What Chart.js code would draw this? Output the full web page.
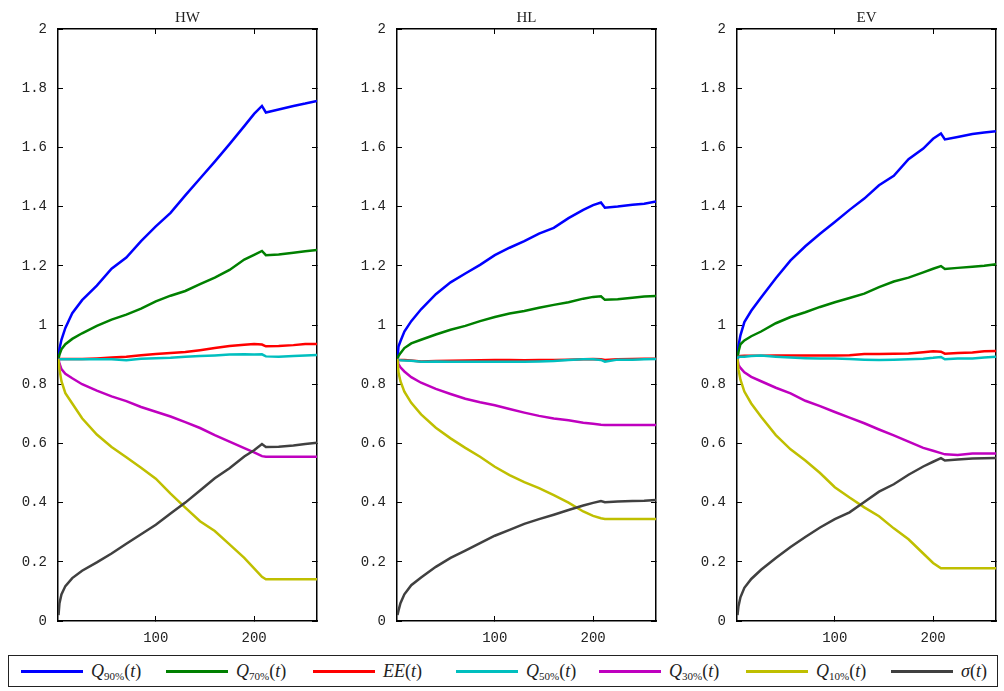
<!DOCTYPE html>
<html>
<head>
<meta charset="utf-8">
<script src="https://cdn.jsdelivr.net/npm/chart.js@4.4.1/dist/chart.umd.min.js"></script>
<style>
  body { margin: 0; background: #fff; width: 1004px; height: 691px; position: relative; overflow: hidden; }
  canvas { position: absolute; top: 0; }
  #legend { position: absolute; left: 8px; top: 655px; width: 990px; height: 32px; border: 1.5px solid #222; box-sizing: border-box; }
  .item { position: absolute; top: 0; height: 32px; font-family: "Liberation Serif", "DejaVu Serif", serif; font-size: 18px; color: #222; white-space: nowrap; }
  .item .ln { position: absolute; top: 14px; left: 0; width: 62px; height: 3px; }
  .item .tx { position: absolute; top: 5px; left: 70px; }
  .item sub { font-style: normal; font-size: 11px; vertical-align: -3px; }
</style>
</head>
<body>
<canvas id="c0"></canvas>
<canvas id="c1"></canvas>
<canvas id="c2"></canvas>
<div id="legend"></div>
<script>
// time steps shared by all series
const T = [1, 2, 4, 8, 15, 25, 40, 55, 70, 85, 100, 115, 130, 145, 160, 175, 190, 200, 208, 212, 225, 240, 252, 264];

// HW
const HW_Q90 = [0.885, 0.92, 0.95, 0.99, 1.04, 1.084, 1.133, 1.19, 1.228, 1.283, 1.333, 1.379, 1.438, 1.495, 1.552, 1.611, 1.672, 1.713, 1.740, 1.718, 1.728, 1.740, 1.748, 1.757];
const HW_Q70 = [0.885, 0.90, 0.918, 0.935, 0.953, 0.972, 0.997, 1.018, 1.035, 1.055, 1.080, 1.099, 1.115, 1.138, 1.160, 1.186, 1.221, 1.237, 1.250, 1.236, 1.238, 1.244, 1.249, 1.253];
const HW_EE  = [0.885, 0.885, 0.885, 0.885, 0.885, 0.885, 0.887, 0.890, 0.893, 0.898, 0.902, 0.905, 0.909, 0.915, 0.922, 0.929, 0.933, 0.936, 0.934, 0.928, 0.929, 0.932, 0.936, 0.936];
const HW_Q50 = [0.885, 0.884, 0.884, 0.884, 0.884, 0.884, 0.884, 0.884, 0.881, 0.886, 0.888, 0.889, 0.893, 0.895, 0.897, 0.900, 0.901, 0.900, 0.901, 0.894, 0.893, 0.895, 0.897, 0.899];
const HW_Q30 = [0.885, 0.870, 0.851, 0.835, 0.820, 0.800, 0.778, 0.759, 0.743, 0.723, 0.707, 0.691, 0.672, 0.652, 0.628, 0.606, 0.584, 0.570, 0.557, 0.555, 0.555, 0.555, 0.555, 0.555];
const HW_Q10 = [0.885, 0.850, 0.810, 0.770, 0.735, 0.685, 0.630, 0.588, 0.553, 0.518, 0.481, 0.430, 0.383, 0.337, 0.304, 0.259, 0.213, 0.178, 0.149, 0.141, 0.141, 0.141, 0.141, 0.141];
const HW_SD  = [0.020, 0.060, 0.090, 0.118, 0.145, 0.170, 0.198, 0.228, 0.261, 0.293, 0.325, 0.363, 0.400, 0.441, 0.482, 0.516, 0.556, 0.577, 0.598, 0.588, 0.589, 0.593, 0.598, 0.602];

// HL
const HL_Q90 = [0.885, 0.927, 0.945, 0.978, 1.013, 1.053, 1.104, 1.144, 1.174, 1.203, 1.236, 1.261, 1.283, 1.309, 1.328, 1.361, 1.389, 1.405, 1.414, 1.396, 1.400, 1.406, 1.410, 1.417];
const HL_Q70 = [0.885, 0.895, 0.905, 0.922, 0.938, 0.950, 0.968, 0.984, 0.997, 1.013, 1.027, 1.039, 1.047, 1.058, 1.068, 1.077, 1.089, 1.095, 1.097, 1.085, 1.087, 1.092, 1.096, 1.098];
const HL_EE  = [0.885, 0.883, 0.882, 0.882, 0.880, 0.877, 0.878, 0.879, 0.880, 0.881, 0.882, 0.882, 0.881, 0.882, 0.882, 0.883, 0.884, 0.885, 0.884, 0.882, 0.884, 0.885, 0.886, 0.886];
const HL_Q50 = [0.885, 0.882, 0.881, 0.880, 0.879, 0.876, 0.877, 0.876, 0.876, 0.876, 0.876, 0.876, 0.876, 0.877, 0.878, 0.882, 0.884, 0.884, 0.882, 0.876, 0.883, 0.883, 0.884, 0.885];
const HL_Q30 = [0.885, 0.868, 0.857, 0.843, 0.824, 0.805, 0.784, 0.767, 0.751, 0.739, 0.729, 0.716, 0.704, 0.693, 0.684, 0.678, 0.670, 0.666, 0.663, 0.662, 0.662, 0.662, 0.662, 0.662];
const HL_Q10 = [0.885, 0.840, 0.810, 0.775, 0.737, 0.698, 0.653, 0.617, 0.585, 0.555, 0.521, 0.493, 0.469, 0.449, 0.425, 0.400, 0.370, 0.355, 0.347, 0.345, 0.345, 0.345, 0.345, 0.345];
const HL_SD  = [0.020, 0.035, 0.060, 0.090, 0.121, 0.147, 0.183, 0.213, 0.238, 0.263, 0.288, 0.308, 0.328, 0.344, 0.359, 0.375, 0.390, 0.399, 0.405, 0.401, 0.404, 0.405, 0.406, 0.409];

// EV
const EV_Q90 = [0.885, 0.930, 0.965, 1.010, 1.048, 1.093, 1.158, 1.218, 1.266, 1.308, 1.348, 1.389, 1.427, 1.472, 1.504, 1.560, 1.596, 1.629, 1.647, 1.627, 1.635, 1.645, 1.650, 1.655];
const EV_Q70 = [0.885, 0.910, 0.935, 0.948, 0.962, 0.978, 1.006, 1.027, 1.043, 1.061, 1.077, 1.091, 1.106, 1.128, 1.147, 1.160, 1.178, 1.190, 1.199, 1.189, 1.193, 1.197, 1.200, 1.205];
const EV_EE  = [0.885, 0.893, 0.895, 0.896, 0.896, 0.896, 0.897, 0.897, 0.897, 0.897, 0.897, 0.898, 0.902, 0.902, 0.903, 0.904, 0.908, 0.911, 0.910, 0.903, 0.905, 0.907, 0.911, 0.912];
const EV_Q50 = [0.885, 0.892, 0.893, 0.893, 0.895, 0.897, 0.893, 0.890, 0.888, 0.887, 0.887, 0.885, 0.883, 0.882, 0.883, 0.884, 0.886, 0.889, 0.892, 0.884, 0.887, 0.887, 0.890, 0.893];
const EV_Q30 = [0.885, 0.865, 0.855, 0.840, 0.825, 0.810, 0.788, 0.769, 0.744, 0.726, 0.706, 0.687, 0.668, 0.647, 0.627, 0.606, 0.585, 0.575, 0.567, 0.563, 0.561, 0.566, 0.566, 0.566];
const EV_Q10 = [0.885, 0.850, 0.815, 0.775, 0.735, 0.690, 0.628, 0.580, 0.542, 0.500, 0.452, 0.417, 0.384, 0.354, 0.313, 0.276, 0.228, 0.196, 0.178, 0.178, 0.178, 0.178, 0.178, 0.178];
const EV_SD  = [0.020, 0.050, 0.080, 0.112, 0.142, 0.173, 0.213, 0.250, 0.284, 0.316, 0.344, 0.367, 0.402, 0.437, 0.462, 0.494, 0.522, 0.538, 0.550, 0.542, 0.546, 0.549, 0.550, 0.551];

const titles = ['HW', 'HL', 'EV'];
const panelSeries = [
  [HW_Q90, HW_Q70, HW_EE, HW_Q50, HW_Q30, HW_Q10, HW_SD],
  [HL_Q90, HL_Q70, HL_EE, HL_Q50, HL_Q30, HL_Q10, HL_SD],
  [EV_Q90, EV_Q70, EV_EE, EV_Q50, EV_Q30, EV_Q10, EV_SD]
];
const colors = ['#0000ff', '#008000', '#ff0000', '#00bfbf', '#bf00bf', '#bfbf00', '#404040'];
const legendHtml = [
  '<i>Q</i><sub>90%</sub>(<i>t</i>)',
  '<i>Q</i><sub>70%</sub>(<i>t</i>)',
  '<i>EE</i>(<i>t</i>)',
  '<i>Q</i><sub>50%</sub>(<i>t</i>)',
  '<i>Q</i><sub>30%</sub>(<i>t</i>)',
  '<i>Q</i><sub>10%</sub>(<i>t</i>)',
  '<i>σ</i>(<i>t</i>)'
];
const legendX = [12, 157, 304, 447, 590, 737, 882];

const tickFont = { family: '"Liberation Mono", "DejaVu Sans Mono", monospace', size: 14 };
const canvasLeft = [0, 339, 679];

function axisCommon() {
  return {
    type: 'linear',
    grid: { drawOnChartArea: false, drawTicks: true, tickLength: -5, color: '#000', lineWidth: 1 },
    border: { display: true, color: '#000', width: 1.5 }
  };
}

titles.forEach((title, p) => {
  const cv = document.getElementById('c' + p);
  cv.style.left = canvasLeft[p] + 'px';
  cv.style.width = '330px';
  cv.style.height = '651px';
  cv.width = 330;
  cv.height = 651;

  const datasets = panelSeries[p].map((vals, i) => ({
    data: T.map((t, k) => ({ x: t, y: vals[k] })),
    borderColor: colors[i],
    borderWidth: 2.5,
    pointRadius: 0,
    tension: 0,
    order: 6 - i
  }));

  new Chart(cv, {
    type: 'line',
    data: { datasets },
    options: {
      responsive: false,
      animation: false,
      layout: { padding: { left: 0, right: 13, top: 0, bottom: 0 } },
      plugins: {
        legend: { display: false },
        tooltip: { enabled: false },
        title: {
          display: true,
          text: title,
          fullSize: false,
          color: '#222',
          font: { family: '"Liberation Serif", "DejaVu Serif", serif', size: 15, weight: 'normal' },
          padding: { top: 9, bottom: 2 }
        }
      },
      scales: {
        x: Object.assign(axisCommon(), {
          position: 'bottom',
          min: 0.5, max: 264,
          ticks: { stepSize: 100, includeBounds: false, padding: 14, color: '#222', font: tickFont, maxRotation: 0 },
          afterFit: s => { s.height = 30; }
        }),
        x2: Object.assign(axisCommon(), {
          position: 'top',
          min: 0.5, max: 264,
          ticks: { stepSize: 100, includeBounds: false, display: false },
          afterFit: s => { s.height = 0; }
        }),
        y: Object.assign(axisCommon(), {
          position: 'left',
          min: 0, max: 2,
          ticks: {
            stepSize: 0.2, padding: 16, color: '#222', font: tickFont,
            callback: v => String(Number(v.toFixed(1)))
          },
          afterFit: s => { s.width = 58; }
        }),
        y2: Object.assign(axisCommon(), {
          position: 'right',
          min: 0, max: 2,
          ticks: { stepSize: 0.2, display: false },
          afterFit: s => { s.width = 0; }
        })
      }
    }
  });
});

// shared legend below the three panels
const legend = document.getElementById('legend');
legendHtml.forEach((html, i) => {
  const it = document.createElement('div');
  it.className = 'item';
  it.style.left = legendX[i] + 'px';
  it.innerHTML = '<span class="ln" style="background:' + colors[i] + '"></span><span class="tx">' + html + '</span>';
  legend.appendChild(it);
});
</script>
</body>
</html>
